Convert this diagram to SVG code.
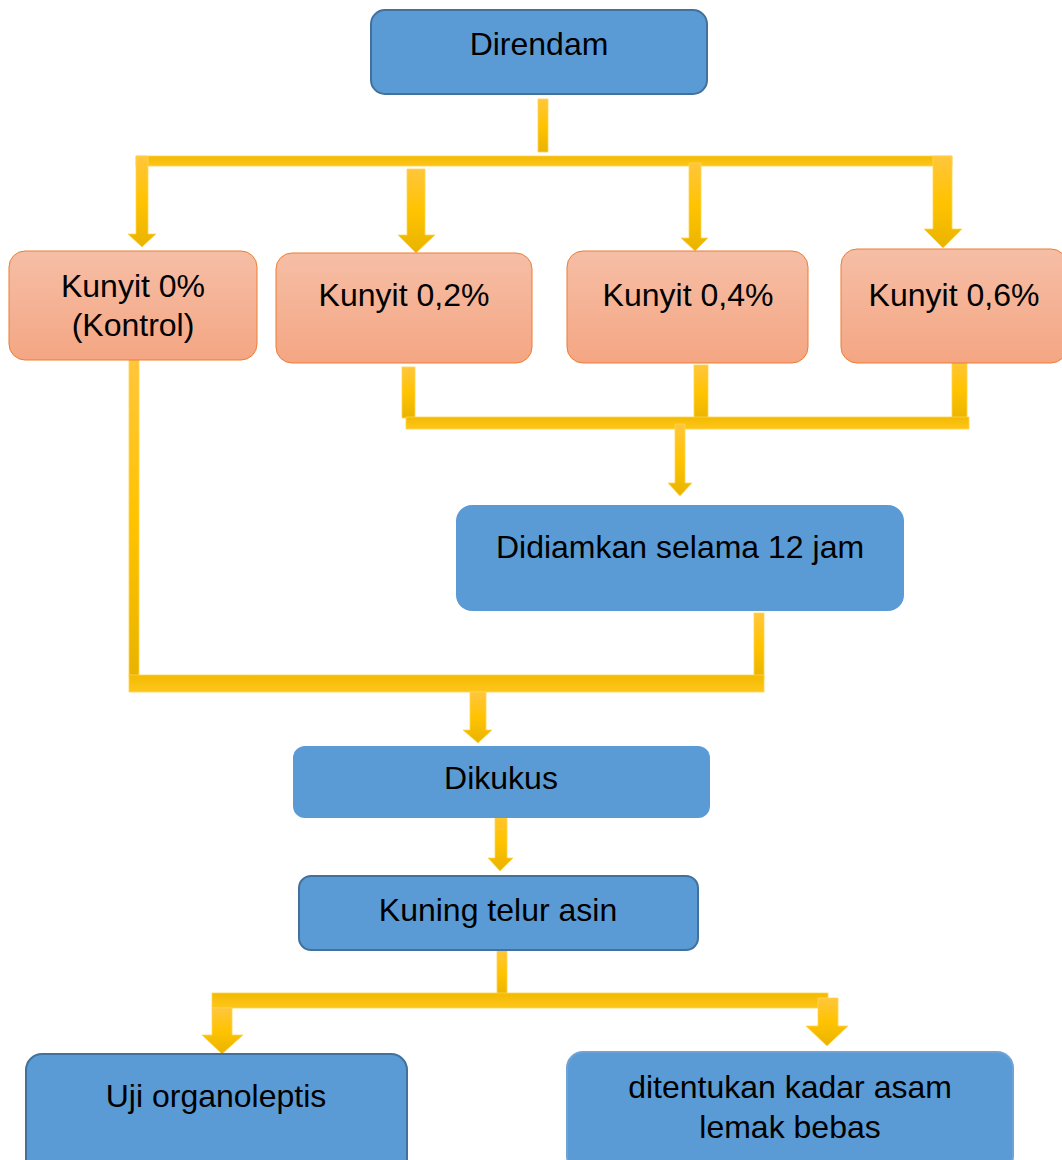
<svg xmlns="http://www.w3.org/2000/svg" width="1062" height="1160" viewBox="0 0 1062 1160">
<defs>
<linearGradient id="orng" x1="0" y1="0" x2="0" y2="1">
<stop offset="0" stop-color="#F6BEA6"/>
<stop offset="1" stop-color="#F4A683"/>
</linearGradient>
<linearGradient id="gold" x1="0" y1="0" x2="0" y2="1">
<stop offset="0" stop-color="#FFC63C"/>
<stop offset="0.5" stop-color="#FFC300"/>
<stop offset="1" stop-color="#E9B300"/>
</linearGradient>
<linearGradient id="barg" x1="0" y1="0" x2="0" y2="1">
<stop offset="0" stop-color="#F2BA00"/>
<stop offset="1" stop-color="#FFC61C"/>
</linearGradient>
</defs>
<style>
.blue{fill:#5B9BD5;stroke:#41719C;stroke-width:2}
.blue2{fill:#5B9BD5;stroke:none}
.org{fill:url(#orng);stroke:#ED7D31;stroke-width:1}
.y{fill:url(#gold);stroke:#FFD54F;stroke-width:0.8}
.bar{fill:url(#barg);stroke:#FFD54F;stroke-width:0.8}
text{font-family:"Liberation Sans",Arial,sans-serif;font-size:32px;fill:#000;text-anchor:middle}
</style>
<g id="connectors">
<rect class="y" x="538" y="99" width="10" height="53"/>
<rect class="bar" x="136" y="156" width="816" height="10"/>
<path class="y" d="M136,156 H148 V234 H156 L142,247 L128,234 H136 Z"/>
<path class="y" d="M407,169 H425 V235 H435 L416,253 L398,235 H407 Z"/>
<path class="y" d="M689,163 H701 V238 H708 L695,251 L681,238 H689 Z"/>
<path class="y" d="M933,156 H952 V229 H962 L943,248 L924,229 H933 Z"/>
<rect class="y" x="402" y="367" width="13" height="51"/>
<rect class="y" x="694" y="365" width="14" height="56"/>
<rect class="y" x="952" y="359" width="15" height="62"/>
<rect class="bar" x="406" y="417" width="563" height="12"/>
<path class="y" d="M675,424 H685 V483 H692 L680,496 L668,483 H675 Z"/>
<rect class="y" x="129" y="360" width="10" height="316"/>
<rect class="y" x="754" y="613" width="10" height="66"/>
<rect class="bar" x="129" y="675" width="635" height="17"/>
<path class="y" d="M470,692 H486 V730 H492 L478,743 L463,730 H470 Z"/>
<path class="y" d="M495,810 H507 V858 H513 L500,871 L488,858 H495 Z"/>
<rect class="y" x="497" y="950" width="10" height="47"/>
<rect class="bar" x="212" y="993" width="616" height="15"/>
<path class="y" d="M212,1008 H232 V1035 H243 L222,1054 L202,1035 H212 Z"/>
<path class="y" d="M818,998 H838 V1026 H848 L827,1046 L806,1026 H818 Z"/>
</g>
<g id="direndam">
<rect class="blue" x="371" y="10" width="336" height="84" rx="14"/>
<text x="539" y="55">Direndam</text>
</g>
<g id="kunyit0">
<rect class="org" x="9" y="251" width="248" height="109" rx="16"/>
<text x="133" y="297">Kunyit 0%</text>
<text x="133" y="336">(Kontrol)</text>
</g>
<g id="kunyit02">
<rect class="org" x="276" y="253" width="256" height="110" rx="16"/>
<text x="404" y="306">Kunyit 0,2%</text>
</g>
<g id="kunyit04">
<rect class="org" x="567" y="251" width="241" height="112" rx="16"/>
<text x="688" y="306">Kunyit 0,4%</text>
</g>
<g id="kunyit06">
<rect class="org" x="841" y="249" width="226" height="114" rx="16"/>
<text x="954" y="306">Kunyit 0,6%</text>
</g>
<g id="didiamkan">
<rect class="blue2" x="456" y="505" width="448" height="106" rx="16"/>
<text x="680" y="558">Didiamkan selama 12 jam</text>
</g>
<g id="dikukus">
<rect class="blue2" x="293" y="746" width="417" height="72" rx="12"/>
<text x="501" y="789">Dikukus</text>
</g>
<g id="kuning">
<rect class="blue" x="299" y="876" width="399" height="74" rx="12"/>
<text x="498" y="921">Kuning telur asin</text>
</g>
<g id="uji">
<rect class="blue" x="26" y="1054" width="381" height="120" rx="16"/>
<text x="216" y="1107">Uji organoleptis</text>
</g>
<g id="ditentukan">
<rect class="blue" x="567" y="1052" width="446" height="120" rx="16" style="stroke:#6FA3D6"/>
<text x="790" y="1098">ditentukan kadar asam</text>
<text x="790" y="1138">lemak bebas</text>
</g>
</svg>
